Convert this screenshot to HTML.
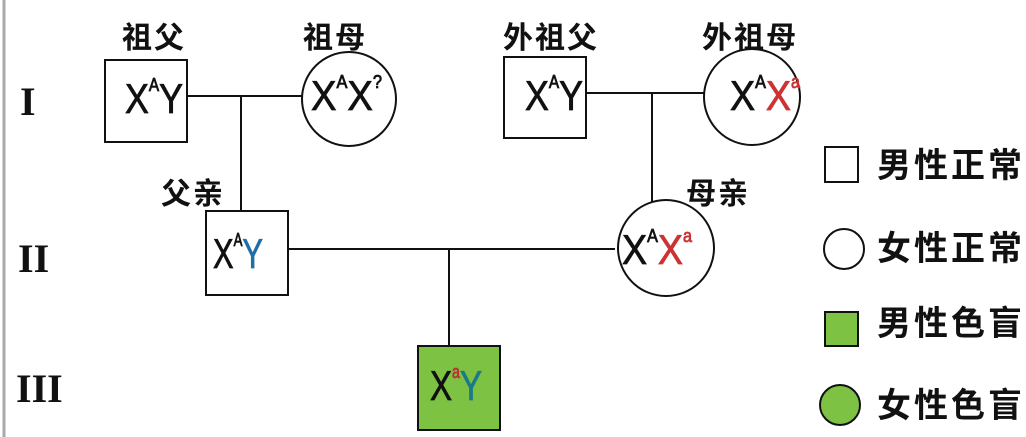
<!DOCTYPE html>
<html><head><meta charset="utf-8"><style>
html,body{margin:0;padding:0;background:#fff;width:1026px;height:437px;overflow:hidden}
text{font-family:"Liberation Sans","Noto Sans CJK SC",sans-serif}
.cn{font-weight:bold;font-size:30px;fill:#111;letter-spacing:2px}
.g{font-size:42px;fill:#111;font-family:"Liberation Sans",sans-serif;stroke:currentColor;stroke-width:0.8}
.s{font-size:18px}
.r{font-family:"Liberation Serif",serif;font-size:40px;fill:#111;font-weight:bold}
.lg{font-weight:bold;font-size:34px;fill:#111;letter-spacing:3px}
</style></head><body>
<svg width="1026" height="437" xmlns="http://www.w3.org/2000/svg">
<line x1="4" y1="0" x2="4" y2="437" stroke="#aaa" stroke-width="3"/>
<g stroke="#111" stroke-width="2" fill="none">
<line x1="188" y1="96" x2="303" y2="96"/>
<line x1="241" y1="96" x2="241" y2="210"/>
<line x1="287" y1="249" x2="615" y2="249"/>
<line x1="449" y1="249" x2="449" y2="346"/>
<line x1="586" y1="93" x2="705" y2="93"/>
<line x1="652" y1="93" x2="652" y2="202"/>
<rect x="105" y="60" width="82" height="82" fill="#fff"/>
<circle cx="349" cy="99" r="47" fill="#fff"/>
<rect x="504" y="57" width="82" height="81" fill="#fff"/>
<circle cx="752" cy="97" r="48" fill="#fff"/>
<rect x="206" y="211" width="82" height="84" fill="#fff"/>
<circle cx="666" cy="248" r="48" fill="#fff"/>
<rect x="418" y="346" width="82" height="84" fill="#7dc242"/>
<rect x="825" y="147" width="33" height="35" fill="#fff"/>
<circle cx="844" cy="249" r="20" fill="#fff"/>
<rect x="825" y="312" width="33" height="34" fill="#7dc242"/>
<circle cx="840" cy="405" r="20" fill="#7dc242"/>
</g>
<text class="r" x="20" y="115">I</text>
<text class="r" x="18" y="272">II</text>
<text class="r" x="16" y="402">III</text>
<text class="cn" x="122" y="48">祖父</text>
<text class="cn" x="303" y="48">祖母</text>
<text class="cn" x="503" y="48">外祖父</text>
<text class="cn" x="702" y="48">外祖母</text>
<text class="cn" x="161" y="204">父亲</text>
<text class="cn" x="686" y="204">母亲</text>
<g style="color:#111">
<text class="g" x="125" y="113" textLength="58" lengthAdjust="spacingAndGlyphs">X<tspan class="s" dy="-22">A</tspan><tspan dy="22">Y</tspan></text>
<text class="g" x="311" y="110" textLength="71" lengthAdjust="spacingAndGlyphs">X<tspan class="s" dy="-22">A</tspan><tspan dy="22">X</tspan><tspan class="s" dy="-22" font-size="14">?</tspan></text>
<text class="g" x="525" y="110" textLength="58" lengthAdjust="spacingAndGlyphs">X<tspan class="s" dy="-22">A</tspan><tspan dy="22">Y</tspan></text>
<text class="g" x="730" y="110" textLength="70" lengthAdjust="spacingAndGlyphs">X<tspan class="s" dy="-22">A</tspan><tspan dy="22" fill="#c33" stroke="#c33">X</tspan><tspan class="s" dy="-22" fill="#c33" stroke="#c33">a</tspan></text>
<text class="g" x="213" y="268" textLength="50" lengthAdjust="spacingAndGlyphs">X<tspan class="s" dy="-22">A</tspan><tspan dy="22" fill="#1e6fa8" stroke="#1e6fa8">Y</tspan></text>
<text class="g" x="622" y="264" textLength="70" lengthAdjust="spacingAndGlyphs">X<tspan class="s" dy="-22">A</tspan><tspan dy="22" fill="#c33" stroke="#c33">X</tspan><tspan class="s" dy="-22" fill="#c33" stroke="#c33">a</tspan></text>
<text class="g" x="430" y="400" fill="#d2401e" stroke="#d2401e" textLength="52" lengthAdjust="spacingAndGlyphs">X<tspan class="s" dy="-22" fill="#b33" stroke="#b33">a</tspan><tspan dy="22" fill="#1a7a8a" stroke="#1a7a8a">Y</tspan></text>
</g>
<text class="lg" x="877" y="177">男性正常</text>
<text class="lg" x="877" y="260">女性正常</text>
<text class="lg" x="877" y="335">男性色盲</text>
<text class="lg" x="877" y="417">女性色盲</text>
</svg>
</body></html>
